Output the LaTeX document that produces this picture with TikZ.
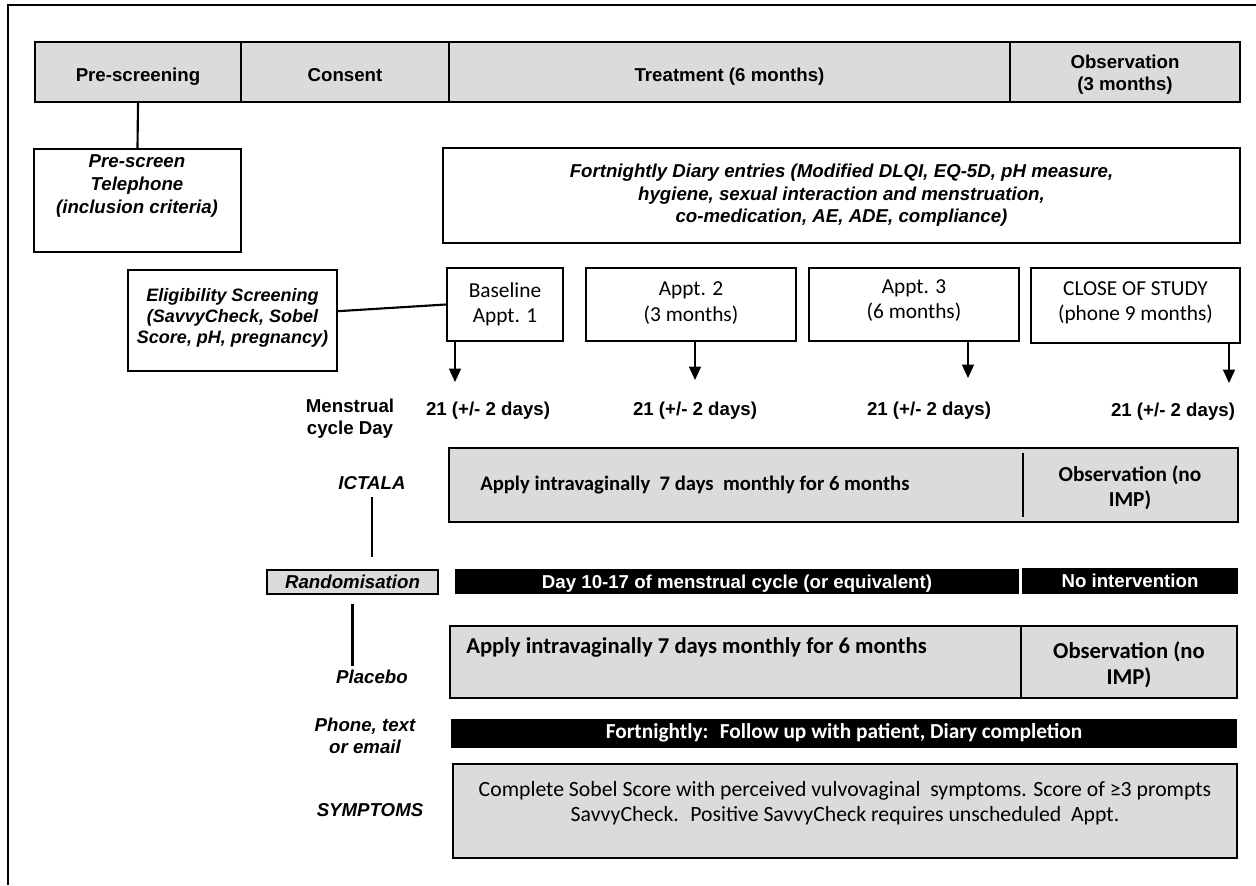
\documentclass[tikz,border=0pt]{standalone}
\usepackage{fontspec}
\setmainfont{Liberation Sans}
\newfontfamily\calsans{Carlito}
\usepackage{tikz}
\usetikzlibrary{positioning, fit, arrows.meta}

\definecolor{cellgrey}{gray}{0.86}

\newcommand{\hdfont}{\bfseries\fontsize{14}{16.5}\selectfont}
\newcommand{\itfont}{\bfseries\itshape\fontsize{14}{17}\selectfont}
\newcommand{\apfont}{\calsans\fontsize{16}{19}\selectfont}

\begin{document}
\begin{tikzpicture}[x=0.75pt, y=-0.75pt,
  cell/.style={draw, line width=1.8pt, fill=cellgrey, inner sep=0pt},
  box/.style={draw, line width=1.8pt, fill=white, inner sep=0pt},
  bar/.style={fill=black, inner sep=0pt},
  txt/.style={align=center, inner sep=1pt, font=\hdfont},
  one/.style={text height=12pt, text depth=2pt},
  wtxt/.style={txt, one, text=white},
  lbl/.style={align=center, inner sep=1pt, font=\itfont},
  day/.style={inner sep=1pt, align=center, font=\hdfont},
  link/.style={line width=1.6pt},
  arr/.style={line width=1pt, -{Triangle[length=10pt,width=9pt]}}]

\useasboundingbox (0,0) rectangle (1256,885);
\draw[line width=1pt] (8,885) -- (8,5) -- (1256,5);

% phases
\node[cell, fit={(35,42) (241,102)}] (hpre) {};
\node[cell, fit={(241,42) (449,102)}] (hcons) {};
\node[cell, fit={(449,42) (1010,102)}] (htreat) {};
\node[cell, fit={(1010,42) (1240,102)}] (hobs) {};
\node[txt, one] at ([yshift=-2pt]hpre.center) {Pre-screening};
\node[txt, one] at ([yshift=-2pt]hcons.center) {Consent};
\node[txt, one] at ([yshift=-2pt]htreat.center) {Treatment (6 months)};
\node[txt] at ([yshift=-2pt]hobs.center) {Observation\\(3 months)};

% screening
\node[box, fit={(34,149) (241,252)}] (prescr) {};
\node[lbl] (prescrtxt) at (137,186) {Pre-screen\\Telephone\\(inclusion criteria)};
\draw[link] (hpre.south) -- (prescr.north);

\node[box, fit={(443,148) (1240,243)}] (diary) {};
\node[lbl] at (diary)
  {Fortnightly Diary entries (Modified DLQI, EQ-5D, pH measure,\\
   hygiene, sexual interaction and menstruation,\\
   co-medication, AE, ADE, compliance)};

\node[box, fit={(128,270) (337,371)}] (elig) {};
\node[lbl, font=\itfont\fontsize{13.5}{16}\selectfont] at ([yshift=2pt]elig.center)
  {Eligibility Screening\\(SavvyCheck, Sobel\\Score, pH, pregnancy)};

% appointments
\node[box, fit={(447,268) (563,341)}] (base) {};
\node[box, fit={(586,268) (796,341)}] (appt2) {};
\node[box, fit={(809,268) (1019,341)}] (appt3) {};
\node[box, fit={(1031,268) (1240,343)}] (close) {};
\node[txt, font=\apfont] at (base) {Baseline\\Appt. 1};
\node[txt, font=\apfont] at ([yshift=1pt]appt2.center) {Appt. 2\\(3 months)};
\node[txt, font=\apfont] at ([yshift=3pt]appt3.center) {Appt. 3\\(6 months)};
\node[txt, font=\apfont] at ([yshift=2pt]close.center) {CLOSE OF STUDY\\(phone 9 months)};
\draw[link] ([yshift=7pt]elig.east) -- (base.west);

\coordinate (d1) at (455,382);
\coordinate (d2) at (695,380);
\coordinate (d3) at (968,378);
\coordinate (d4) at (1229,383);
\draw[arr] (base.south west -| d1) -- (d1);
\draw[arr] (appt2.south -| d2) -- (d2);
\draw[arr] (appt3.south -| d3) -- (d3);
\draw[arr] (close.south -| d4) -- (d4);

\node[day] (cycle) at (350,419) {Menstrual\\cycle Day};
\node[day] (day1) at (488,411) {21 (+/- 2 days)};
\node[day] (day2) at (695,411) {21 (+/- 2 days)};
\node[day] (day3) at (929,411) {21 (+/- 2 days)};
\node[day] (day4) at (1173,412) {21 (+/- 2 days)};

% arms
\node[lbl] (ictala) at (372,483) {ICTALA};
\node[cell, fit={(449,448) (1238,522)}] (ictrow) {};
\draw[line width=1.6pt] (1023,453) -- (1023,517);
\node[anchor=west, inner sep=0pt, font=\calsans\bfseries\fontsize{15.5}{18}\selectfont] (ictapply) at (480,485)
  {Apply intravaginally \ 7 days \ monthly for 6 months};
\node[txt, font=\calsans\bfseries\fontsize{16}{19}\selectfont] (ictobs) at (1130,488)
  {Observation (no\\IMP)};

\node[cell, fit={(267,570) (438,594)}, line width=1.2pt] (rand) {};
\node[lbl, one] at (rand) {Randomisation};
\node[bar, fit={(455,569) (1019,594)}] (window) {};
\node[bar, fit={(1022,568) (1238,594)}] (nointer) {};
\node[wtxt] at (window) {Day 10-17 of menstrual cycle (or equivalent)};
\node[wtxt] at (nointer) {No intervention};

\node[lbl] (placebo) at (372,677) {Placebo};
\node[cell, fit={(450,626) (1021,698)}] (plarow) {};
\node[cell, fit={(1021,626) (1237,698)}] (plaobs) {};
\node[txt, font=\calsans\bfseries\fontsize{17}{19.5}\selectfont] at ([yshift=-2pt]plaobs.center) {Observation (no\\IMP)};
\node[anchor=west, inner sep=0pt, font=\calsans\bfseries\fontsize{17}{20}\selectfont] (plaapply) at (466,647)
  {Apply intravaginally 7 days monthly for 6 months};

\draw[link, shorten <=4pt, shorten >=9pt] (ictala.south) -- (ictala.south |- rand.north);
\draw[link, shorten <=7pt, shorten >=2pt] (rand.south) -- (rand.south |- placebo.north);

% follow up
\node[lbl, font=\itfont\fontsize{14}{16.5}\selectfont] (phone) at (365,736) {Phone, text\\or email};
\node[bar, fit={(451,719) (1237,748)}] (follow) {};
\node[wtxt, font=\calsans\bfseries\fontsize{16}{18}\selectfont] at ([yshift=1pt]follow.center)
  {Fortnightly: \ Follow up with patient, Diary completion};

\node[lbl] (sympt) at (370,810) {SYMPTOMS};
\node[cell, fit={(453,764) (1237,858)}] (symrow) {};
\node[txt, font=\calsans\fontsize{16.3}{19}\selectfont] (symtxt) at (845,803)
  {Complete Sobel Score with perceived vulvovaginal \ symptoms. Score of ≥3 prompts\\
   SavvyCheck. \ Positive SavvyCheck requires unscheduled \ Appt.};

\end{tikzpicture}
\end{document}
